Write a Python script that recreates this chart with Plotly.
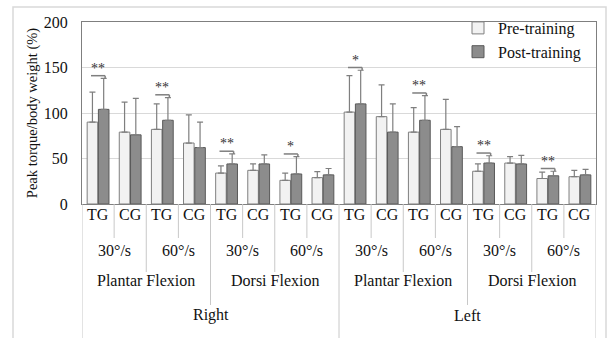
import plotly.graph_objects as go

# ---- data ----
group_labels = ["TG", "CG"] * 8
speed_labels = ["30°/s", "60°/s"] * 4
direction_labels = ["Plantar Flexion", "Dorsi Flexion"] * 2
side_labels = ["Right", "Left"]

pre_mean = [90, 79, 82, 67, 34, 37, 26, 29, 101, 96, 79, 82, 36, 45, 28, 30]
pre_sd = [33, 33, 28, 31, 8, 7, 8, 6.5, 40, 35, 27, 33, 8, 7, 7, 7]
post_mean = [104, 76, 92, 62, 44, 44, 33, 32, 110, 79, 92, 63, 45, 44, 31, 32]
post_sd = [34, 40, 25, 28, 11, 10, 19, 7, 37, 31, 27, 22, 8, 9.5, 5, 6]

sig_index = [0, 2, 4, 6, 8, 10, 12, 14]
sig_marks = ["**", "**", "**", "*", "*", "**", "**", "**"]

FONT = "Liberation Serif"
TXT = "#111111"
x = list(range(len(group_labels)))

fig = go.Figure()
fig.add_trace(go.Bar(
    x=x, y=pre_mean, name="Pre-training",
    marker=dict(color="#f2f2f2", line=dict(color="#7f7f7f", width=1)),
    error_y=dict(type="data", symmetric=False, array=pre_sd,
                 arrayminus=[0] * len(pre_sd), color="#7f7f7f",
                 thickness=1.2, width=3),
))
fig.add_trace(go.Bar(
    x=x, y=post_mean, name="Post-training",
    marker=dict(color="#8c8c8c", line=dict(color="#595959", width=1)),
    error_y=dict(type="data", symmetric=False, array=post_sd,
                 arrayminus=[0] * len(post_sd), color="#7f7f7f",
                 thickness=1.2, width=3),
))

shapes = []
annotations = []

# significance brackets
for i, mark in zip(sig_index, sig_marks):
    top = max(pre_mean[i] + pre_sd[i], post_mean[i] + post_sd[i]) + 3
    shapes.append(dict(type="line", xref="x", yref="y", x0=i - 0.22, x1=i + 0.22,
                       y0=top, y1=top, line=dict(color="#7f7f7f", width=1.5)))
    shapes.append(dict(type="line", xref="x", yref="y", x0=i + 0.22, x1=i + 0.22,
                       y0=top, y1=top - 3, line=dict(color="#7f7f7f", width=1.5)))
    annotations.append(dict(x=i, y=top, xref="x", yref="y", text=mark,
                            showarrow=False, yanchor="bottom", yshift=-2,
                            font=dict(family=FONT, size=14, color="#333333")))

# hierarchical category labels
def py(p):
    return (204 - p) / 182.0

for i, lab in enumerate(group_labels):
    annotations.append(dict(x=i, y=py(225), xref="x", yref="paper", text=lab,
                            showarrow=False, font=dict(family=FONT, size=16, color=TXT)))
for k, lab in enumerate(speed_labels):
    annotations.append(dict(x=2 * k + 0.5, y=py(261), xref="x", yref="paper", text=lab,
                            showarrow=False, font=dict(family=FONT, size=16, color=TXT)))
for k, lab in enumerate(direction_labels):
    annotations.append(dict(x=4 * k + 1.5, y=py(291), xref="x", yref="paper", text=lab,
                            showarrow=False, font=dict(family=FONT, size=16, color=TXT)))
for k, lab in enumerate(side_labels):
    annotations.append(dict(x=8 * k + 3.5, y=py(326), xref="x", yref="paper", text=lab,
                            showarrow=False, font=dict(family=FONT, size=16, color=TXT)))

# separator lines
n = len(group_labels)
for b in range(n + 1):
    if b % 8 == 0:
        yb = py(345)
    elif b % 4 == 0:
        yb = py(305)
    elif b % 2 == 0:
        yb = py(272)
    else:
        yb = py(238)
    shapes.append(dict(type="line", xref="x", yref="paper", x0=b - 0.5, x1=b - 0.5,
                       y0=0, y1=yb, line=dict(color="#c8c8c8", width=1)))

# outer chart frame
shapes.append(dict(type="rect", xref="paper", yref="paper",
                   x0=(13 - 82) / 514, x1=(606 - 82) / 514, y0=py(350), y1=py(7),
                   line=dict(color="#d9d9d9", width=1.5), layer="below"))

fig.update_layout(
    width=608, height=338,
    margin=dict(l=82, r=12, t=22, b=134, autoexpand=False),
    paper_bgcolor="white", plot_bgcolor="white",
    barmode="group", bargap=0.3, bargroupgap=0.06,
    showlegend=True,
    legend=dict(x=(458 - 82) / 514, xanchor="left", y=py(11), yanchor="top",
                bgcolor="rgba(0,0,0,0)", font=dict(family=FONT, size=16, color=TXT),
                tracegroupgap=0, itemwidth=30),
    xaxis=dict(range=[-0.5, n - 0.5], showticklabels=False, showgrid=False,
               zeroline=False, showline=True, linecolor="#7f7f7f", mirror=True,
               ticks="", automargin=False),
    yaxis=dict(range=[0, 200], tickvals=[0, 50, 100, 150, 200],
               showgrid=True, gridcolor="#d9d9d9", zeroline=False,
               showline=True, linecolor="#7f7f7f", mirror=True, automargin=False,
               tickfont=dict(family=FONT, size=16, color=TXT), ticks="",
               ticklabelstandoff=10,
               title=dict(text="Peak torque/body weight (%)",
                          font=dict(family=FONT, size=14.5, color=TXT), standoff=2)),
    shapes=shapes, annotations=annotations,
    font=dict(family=FONT),
)

fig.write_html("out.html", config={"displayModeBar": False},
               post_script="document.body.style.margin='0';")
